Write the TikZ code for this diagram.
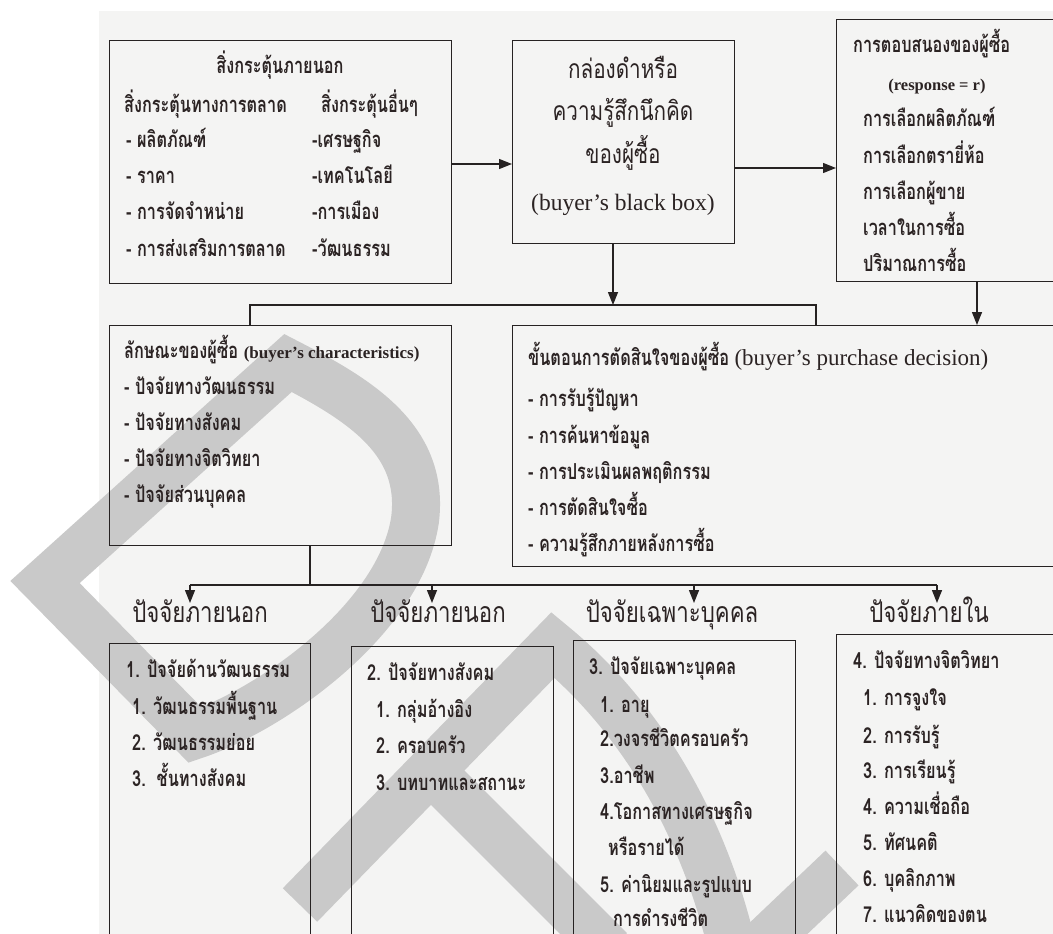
\documentclass[tikz,border=0pt]{standalone}
\usepackage{fontspec}
\setmainfont{Liberation Serif}
\newfontfamily\thai[Script=Thai,FakeStretch=0.74]{Loma}
\newfontfamily\thaih[Script=Thai,FakeStretch=0.78]{Loma}
\usetikzlibrary{arrows.meta}
\definecolor{linec}{HTML}{262222}
\definecolor{txt}{HTML}{2B2323}
\definecolor{bgc}{HTML}{F4F4F3}
\definecolor{wmc}{HTML}{C9C9C9}
\tikzset{
 ln/.style={draw=linec, line width=1.4pt},
 arr/.style={ln, -{Triangle[length=13pt,width=10pt]}},
 box/.style={draw=linec, line width=1.4pt, inner sep=0pt, anchor=north west},
 tb/.style={inner sep=0pt, anchor=base west, text=txt, font=\thai\bfseries\fontsize{22}{26}\selectfont},
 tbc/.style={tb, anchor=base},
 tr/.style={inner sep=0pt, anchor=base, text=txt, font=\thaih\fontsize{26.5}{30}\selectfont},
 hd/.style={inner sep=0pt, anchor=base, text=txt, font=\thaih\fontsize{28.5}{32}\selectfont},
 lat/.style={inner sep=0pt, anchor=base, text=txt, font=\fontsize{23.5}{28}\selectfont},
 wm/.style={draw=wmc, line width=48pt, line join=miter}
}
\begin{document}
\begin{tikzpicture}[x=1pt,y=-1pt]
\useasboundingbox (0,0) rectangle (1053,934);
\clip (0,0) rectangle (1053,934);
\fill[white] (0,0) rectangle (1053,934);
\fill[bgc] (99,11) rectangle (1053,934);
% watermark
\draw[wm] (45,582) -- (195,735) .. controls (270,710) and (400,620) .. (415,520) .. controls (425,440) and (360,400) .. (288,363) -- cycle;
\draw[wm] (300,905) -- (553,645) .. controls (620,700) and (700,800) .. (735,960);
\draw[wm] (435,775) -- (610,950);
\draw[wm] (740,965) -- (842,868);
% boxes
\node[box, minimum width=342pt, minimum height=243pt] (b1) at (109,40) {};
\node[box, minimum width=222pt, minimum height=203pt] (b2) at (512,40) {};
\node[box, minimum width=240pt, minimum height=262pt] (b3) at (836,19) {};
\node[box, minimum width=342pt, minimum height=220pt] (b4) at (109,325) {};
\node[box, minimum width=560pt, minimum height=241pt] (b5) at (512,325) {};
\node[box, minimum width=201pt, minimum height=330pt] (b6) at (109,643) {};
\node[box, minimum width=202pt, minimum height=330pt] (b7) at (351,646) {};
\node[box, minimum width=222pt, minimum height=330pt] (b8) at (573,640) {};
\node[box, minimum width=240pt, minimum height=330pt] (b9) at (836,634) {};
% box 1 text
\node[tbc] (t1a) at (280,74) {สิ่งกระตุ้นภายนอก};
\node[tb] (t1b) at (124,112) {สิ่งกระตุ้นทางการตลาด};
\node[tb] (t1c) at (321,112) {สิ่งกระตุ้นอื่นๆ};
\node[tb] (t1d) at (126,147) {- ผลิตภัณฑ์};
\node[tb] (t1e) at (126,183) {- ราคา};
\node[tb] (t1f) at (126,219) {- การจัดจำหน่าย};
\node[tb] (t1g) at (126,256) {- การส่งเสริมการตลาด};
\node[tb] (t1h) at (312,147) {-เศรษฐกิจ};
\node[tb] (t1i) at (312,183) {-เทคโนโลยี};
\node[tb] (t1j) at (312,219) {-การเมือง};
\node[tb] (t1k) at (312,256) {-วัฒนธรรม};
% box 2 text
\node[tr] (t2a) at (623,78) {กล่องดำหรือ};
\node[tr] (t2b) at (623,121) {ความรู้สึกนึกคิด};
\node[tr] (t2c) at (623,163) {ของผู้ซื้อ};
\node[lat] (t2d) at (623,210) {(buyer’s black box)};
% box 3 text
\node[tb] (t3a) at (853,53) {การตอบสนองของผู้ซื้อ};
\node[lat, font=\bfseries\fontsize{16.5}{20}\selectfont] (t3b) at (937,91) {(response = r)};
\node[tb] (t3c) at (863,127) {การเลือกผลิตภัณฑ์};
\node[tb] (t3d) at (863,163) {การเลือกตรายี่ห้อ};
\node[tb] (t3e) at (863,199) {การเลือกผู้ขาย};
\node[tb] (t3f) at (863,235) {เวลาในการซื้อ};
\node[tb] (t3g) at (863,271) {ปริมาณการซื้อ};
% box 4 text
\node[tb] (t4a) at (124,358) {ลักษณะของผู้ซื้อ {\rmfamily\fontsize{17}{20}\selectfont (buyer’s characteristics)}};
\node[tb] (t4b) at (124,394) {- ปัจจัยทางวัฒนธรรม};
\node[tb] (t4c) at (124,430) {- ปัจจัยทางสังคม};
\node[tb] (t4d) at (124,466) {- ปัจจัยทางจิตวิทยา};
\node[tb] (t4e) at (124,502) {- ปัจจัยส่วนบุคคล};
% box 5 text
\node[tb] (t5a) at (528,365) {ขั้นตอนการตัดสินใจของผู้ซื้อ {\rmfamily\mdseries\fontsize{23}{28}\selectfont (buyer’s purchase decision)}};
\node[tb] (t5b) at (528,406) {- การรับรู้ปัญหา};
\node[tb] (t5c) at (528,443) {- การค้นหาข้อมูล};
\node[tb] (t5d) at (528,479) {- การประเมินผลพฤติกรรม};
\node[tb] (t5e) at (528,515) {- การตัดสินใจซื้อ};
\node[tb] (t5f) at (528,551) {- ความรู้สึกภายหลังการซื้อ};
% headings
\node[hd] (h1) at (200,622) {ปัจจัยภายนอก};
\node[hd] (h2) at (438,622) {ปัจจัยภายนอก};
\node[hd] (h3) at (672,622) {ปัจจัยเฉพาะบุคคล};
\node[hd] (h4) at (929,622) {ปัจจัยภายใน};
% bottom boxes
\node[tb] (t6a) at (126,677) {1. ปัจจัยด้านวัฒนธรรม};
\node[tb] (t6b) at (132,714) {1. วัฒนธรรมพื้นฐาน};
\node[tb] (t6c) at (132,750) {2. วัฒนธรรมย่อย};
\node[tb] (t6d) at (132,786) {3.\ \ ชั้นทางสังคม};
\node[tb] (t7a) at (367,680) {2. ปัจจัยทางสังคม};
\node[tb] (t7b) at (376,717) {1. กลุ่มอ้างอิง};
\node[tb] (t7c) at (376,753) {2. ครอบครัว};
\node[tb] (t7d) at (376,790) {3. บทบาทและสถานะ};
\node[tb] (t8a) at (589,674) {3. ปัจจัยเฉพาะบุคคล};
\node[tb] (t8b) at (600,712) {1. อายุ};
\node[tb] (t8c) at (600,746) {2.วงจรชีวิตครอบครัว};
\node[tb] (t8d) at (600,783) {3.อาชีพ};
\node[tb] (t8e) at (600,819) {4.โอกาสทางเศรษฐกิจ};
\node[tb] (t8f) at (608,855) {หรือรายได้};
\node[tb] (t8g) at (600,892) {5. ค่านิยมและรูปแบบ};
\node[tb] (t8h) at (613,926) {การดำรงชีวิต};
\node[tb] (t9a) at (853,668) {4. ปัจจัยทางจิตวิทยา};
\node[tb] (t9b) at (863,705) {1. การจูงใจ};
\node[tb] (t9c) at (863,743) {2. การรับรู้};
\node[tb] (t9d) at (863,778) {3. การเรียนรู้};
\node[tb] (t9e) at (863,814) {4. ความเชื่อถือ};
\node[tb] (t9f) at (863,850) {5. ทัศนคติ};
\node[tb] (t9g) at (863,886) {6. บุคลิกภาพ};
\node[tb] (t9h) at (863,922) {7. แนวคิดของตน};
% connectors
\coordinate (a1) at (0,164);
\coordinate (a2) at (0,168);
\draw[arr] (b1.east |- a1) -- (b2.west |- a1);
\draw[arr] (b2.east |- a2) -- (b3.west |- a2);
\coordinate (j1) at (250,305);
\coordinate (j2) at (816,305);
\coordinate (j3) at (613,305);
\draw[ln] (b4.north -| j1) -- (j1) -- (j2) -- (b5.north -| j2);
\draw[arr] (b2.south -| j3) -- (j3);
\coordinate (rx) at (977,300);
\draw[arr] (b3.south -| rx) -- (b5.north -| rx);
\coordinate (k0) at (310,585);
\coordinate (kA) at (190,585);
\coordinate (kB) at (432,585);
\coordinate (kC) at (694,585);
\coordinate (kD) at (937,585);
\draw[ln] (b4.south -| k0) -- (k0);
\draw[ln] (kA) -- (kD);
\draw[arr] (kA) -- ++(0,18);
\draw[arr] (kB) -- ++(0,18);
\draw[arr] (kC) -- ++(0,18);
\draw[arr] (kD) -- ++(0,18);
\end{tikzpicture}
\end{document}
